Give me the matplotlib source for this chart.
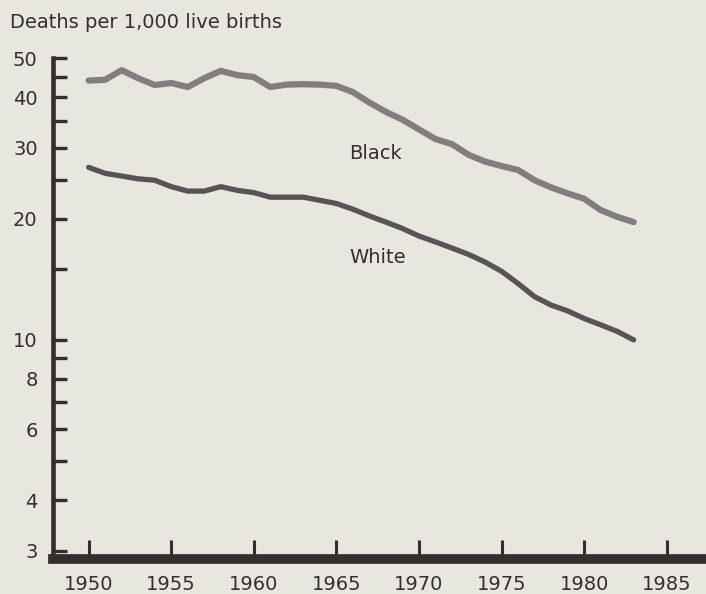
import matplotlib
matplotlib.use("Agg")
import matplotlib.pyplot as plt
from matplotlib.ticker import FixedLocator, NullFormatter, FixedFormatter

years = list(range(1950, 1984))
black = [44.0, 44.2, 46.7, 44.6, 42.9, 43.4, 42.4, 44.6, 46.5, 45.4,
         44.9, 42.4, 43.0, 43.1, 43.0, 42.7, 41.2, 38.8, 36.8, 35.2,
         33.3, 31.5, 30.6, 28.8, 27.7, 27.0, 26.4, 24.9, 23.9, 23.1,
         22.4, 21.0, 20.2, 19.6]
white = [26.8, 25.9, 25.5, 25.1, 24.9, 24.0, 23.4, 23.4, 24.0, 23.5,
         23.2, 22.6, 22.6, 22.6, 22.2, 21.8, 21.1, 20.3, 19.6, 18.9,
         18.1, 17.5, 16.9, 16.3, 15.6, 14.8, 13.8, 12.8, 12.2, 11.8,
         11.3, 10.9, 10.5, 10.0]

x_ticks = [1950, 1955, 1960, 1965, 1970, 1975, 1980, 1985]
y_ticks = [3, 4, 5, 6, 7, 8, 9, 10, 15, 20, 25, 30, 35, 40, 45, 50]
y_labels = ["3", "4", "", "6", "", "8", "", "10", "", "20", "", "30", "", "40", "", "50"]

bg = "#e7e6df"
ink = "#352d2f"

fig = plt.figure(figsize=(7.06, 5.94), dpi=100, facecolor=bg)
ax = fig.add_axes([0.075, 0.059, 0.925, 0.843], facecolor=bg)

ax.plot(years, black, color="#847d7f", lw=4.5, solid_capstyle="round", solid_joinstyle="round")
ax.plot(years, white, color="#5a5355", lw=3.8, solid_capstyle="round", solid_joinstyle="round")

ax.set_yscale("log")
ax.set_ylim(2.86, 50)
ax.set_xlim(1947.84, 1987.38)

ax.yaxis.set_major_locator(FixedLocator(y_ticks))
ax.yaxis.set_major_formatter(FixedFormatter(y_labels))
ax.yaxis.set_minor_locator(FixedLocator([]))
ax.yaxis.set_minor_formatter(NullFormatter())
ax.set_xticks(x_ticks)
ax.set_xticklabels([str(v) for v in x_ticks])

for s in ["top", "right"]:
    ax.spines[s].set_visible(False)
ax.spines["left"].set_linewidth(3.3)
ax.spines["left"].set_color(ink)
ax.spines["bottom"].set_linewidth(7.0)
ax.spines["bottom"].set_color(ink)
ax.spines["left"].set_capstyle("projecting")
ax.spines["bottom"].set_capstyle("projecting")

ax.tick_params(axis="y", direction="in", length=10, width=2.4, color=ink,
               labelsize=14, labelcolor=ink, pad=11)
ax.tick_params(axis="x", direction="in", length=14, width=2.2, color=ink,
               labelsize=14, labelcolor=ink, pad=11.5)

ax.text(1965.77, 29.0, "Black", fontsize=14, color=ink, ha="left", va="center")
ax.text(1965.77, 16.0, "White", fontsize=14, color=ink, ha="left", va="center")

fig.text(10 / 706, 1 - 22 / 594, "Deaths per 1,000 live births", fontsize=14,
         color=ink, ha="left", va="center")

fig.savefig("out.png", dpi=100, facecolor=bg)
